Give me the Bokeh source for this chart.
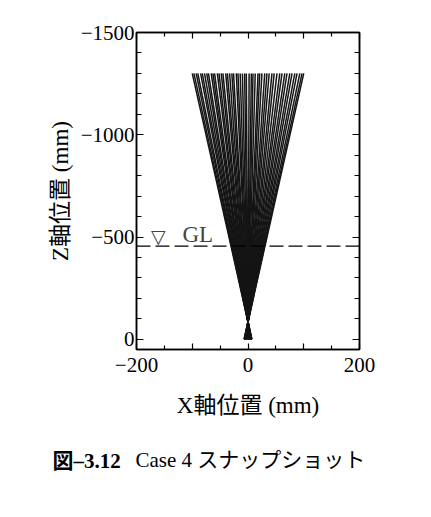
from bokeh.plotting import figure
from bokeh.models import Range1d, FixedTicker, LinearAxis, Label, Span, Title
from bokeh.embed import file_html
from bokeh.resources import INLINE

# ---- data ----
x_top = [-100, -97, -93, -90, -85, -82, -78, -74, -71, -66, -63, -60, -55, -52, -48, -45,
         -40, -37, -33, -29, -26, -21, -18, -14, -10, -6, -3, 2, 6, 9, 13, 18,
         21, 25, 30, 34, 38, 43, 47, 52, 57, 61, 66, 70, 75, 79, 84, 88, 93, 97, 100]
x_bottom = [7, 6.8, 6.5, 6.3, 6, 5.7, 5.5, 5.2, 5, 4.6, 4.4, 4.2, 3.9, 3.6, 3.4, 3.2,
            2.8, 2.6, 2.3, 2, 1.8, 1.5, 1.3, 1, 0.7, 0.4, 0.2, -0.1, -0.4, -0.6, -0.9, -1.3,
            -1.5, -1.8, -2.1, -2.4, -2.7, -3, -3.3, -3.6, -4, -4.3, -4.6, -4.9, -5.3, -5.5, -5.9, -6.2, -6.5, -6.8, -7]
z_top = -1300
z_bottom = 0
ground_level = -455

x_major = [-200, -100, 0, 100, 200]
x_minor = [-150, -50, 50, 150]
x_labels = {-200: "\u2212200", -100: "", 0: "0", 100: "", 200: "200"}
y_major = [-1500, -1000, -500, 0]
y_minor = [-1400, -1300, -1200, -1100, -900, -800, -700, -600, -400, -300, -200, -100]
y_labels = {-1500: "\u22121500", -1000: "\u22121000", -500: "\u2212500", 0: "0"}

caption_bold = "図\u20133.12"
caption_rest = "Case 4 スナップショット"

SERIF = "'Liberation Serif', 'Noto Sans CJK JP'"

p = figure(frame_width=223, frame_height=317, output_backend="svg", toolbar_location=None,
           x_range=Range1d(-200, 200), y_range=Range1d(50, -1500),
           min_border_left=136, min_border_right=56, min_border_top=32, min_border_bottom=150,
           x_axis_label="X軸位置 (mm)", y_axis_label="Z軸位置 (mm)")
p.grid.visible = False
p.outline_line_color = "black"
p.outline_line_width = 1.5
p.background_fill_color = "white"
p.border_fill_color = "white"

# fan of lines
xs = [[xb, xt] for xb, xt in zip(x_bottom, x_top)]
ys = [[z_bottom, z_top] for _ in x_top]
p.multi_line(xs, ys, line_color="#151515", line_width=1.5)

# ground level
p.add_layout(Span(location=ground_level, dimension="width", line_color="black",
                  line_width=1.3, line_dash="14 5"))
p.add_layout(Label(x=-161, y=-503, text="\u25bd", text_font="DejaVu Sans",
                   text_font_size="19px", text_align="center", text_baseline="middle"))
p.add_layout(Label(x=-90, y=-513, text="GL", text_font=SERIF,
                   text_font_size="23px", text_align="center", text_baseline="middle"))

def style(ax, ticks, minor, overrides, tin, tmin):
    ax.ticker = FixedTicker(ticks=ticks, minor_ticks=minor)
    ax.major_label_overrides = overrides
    ax.major_tick_out = 0
    ax.major_tick_in = tin
    ax.minor_tick_out = 0
    ax.minor_tick_in = tmin
    ax.axis_line_color = "black"
    ax.axis_line_width = 1.5
    ax.major_tick_line_width = 1.2
    ax.minor_tick_line_width = 1.2
    ax.major_label_text_font = SERIF
    ax.major_label_text_font_size = "21px"
    ax.major_label_text_color = "black"
    ax.axis_label_text_font = SERIF
    ax.axis_label_text_font_size = "23px"
    ax.axis_label_text_font_style = "normal"
    ax.axis_label_text_color = "black"

xa = p.xaxis[0]
style(xa, x_major, x_minor, x_labels, 6, 4)
xa.major_label_standoff = 8
xa.axis_label_standoff = 18
ya = p.yaxis[0]
style(ya, y_major, y_minor, y_labels, 7, 5)
ya.major_label_standoff = 2
ya.axis_label_standoff = 5

top = LinearAxis()
style(top, x_major, x_minor, {v: "" for v in x_major}, 6, 4)
p.add_layout(top, "above")
right = LinearAxis()
style(right, y_major, y_minor, {v: "" for v in y_major}, 7, 5)
p.add_layout(right, "right")

# caption (two titles below the x axis, on one line)
t_rest = Title(text=caption_rest, align="left", offset=-1, standoff=50,
               text_font=SERIF, text_font_size="21px", text_font_style="normal",
               text_color="black")
t_bold = Title(text=caption_bold, align="left", offset=-84, standoff=-96,
               vertical_align="top",
               text_font=SERIF, text_font_size="21px", text_font_style="bold",
               text_color="black")
p.add_layout(t_rest, "below")
p.add_layout(t_bold, "below")

open("out.html", "w").write(file_html(p, INLINE))
